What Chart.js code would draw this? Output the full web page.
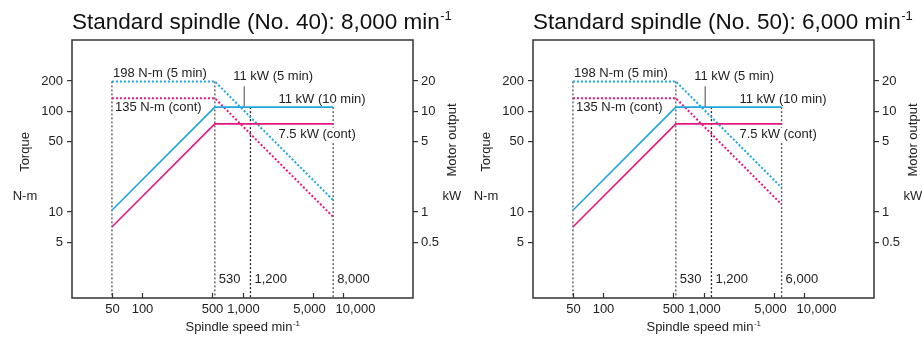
<!DOCTYPE html>
<html lang="en">
<head>
<meta charset="UTF-8">
<title>Standard spindle output</title>
<script src="https://cdnjs.cloudflare.com/ajax/libs/chart.js/4.4.1/chart.umd.min.js"></script>
<style>
    html, body { margin: 0; padding: 0; background: #fff; overflow: hidden; }
    .wrap { position: relative; width: 922px; height: 337px; }
    .box { position: absolute; top: 0; width: 461px; height: 337px; }
    #box40 { left: 0; }
    #box50 { left: 461px; }
</style>
</head>
<body>
<div class="wrap">
    <div class="box" id="box40"><canvas id="chart40" width="461" height="337"></canvas></div>
    <div class="box" id="box50"><canvas id="chart50" width="461" height="337"></canvas></div>
</div>

<script>
    // axis ticks
    const speedTicks = [50, 100, 500, 1000, 5000, 10000];
    const torqueTicks = [5, 10, 50, 100, 200];
    const powerTicks = [0.5, 1, 5, 10, 20];

    // No. 40 spindle, 8,000 min-1
    const speeds40 = [50, 530, 8000];
    const torqueMax40 = [198, 198, 13.1];   // N-m, 5 min
    const torqueCont40 = [135, 135, 8.95];  // N-m, cont
    const powerMax40 = [1.04, 11, 11];      // kW, 5/10 min
    const powerCont40 = [0.71, 7.5, 7.5];   // kW, cont
    const guideSpeeds40 = [50, 530, 1200, 8000];
    const guideTops40 = [198, 198, 110, 110];

    // No. 50 spindle, 6,000 min-1
    const speeds50 = [50, 530, 6000];
    const torqueMax50 = [198, 198, 17.5];
    const torqueCont50 = [135, 135, 11.9];
    const powerMax50 = [1.04, 11, 11];
    const powerCont50 = [0.71, 7.5, 7.5];
    const guideSpeeds50 = [50, 530, 1200, 6000];
    const guideTops50 = [198, 198, 110, 110];

    // pointer for "11 kW (5 min)"
    const pointerSpeed = 1040;
    const pointerRange = [177, 110];

    const BLUE = '#1ea5e0';
    const PINK = '#e4167f';
    const INK = '#222';
    const FONT = '"Liberation Sans", Arial, Helvetica, sans-serif';
    const Y_MIN = 1.4, Y_MAX = 510;
    // the two crowded speed labels are pushed apart a little
    const tickNudge = { 5000: -4, 10000: 12 };

    function pts(xs, ys) {
        return xs.map((x, i) => ({ x: x, y: ys[i] }));
    }

    function line(data, color, axis, dash, width) {
        return {
            data: data,
            borderColor: color,
            borderWidth: width,
            borderDash: dash,
            yAxisID: axis,
            pointRadius: 0,
            tension: 0,
            fill: false
        };
    }

    function superText(ctx, x, y, text, sup, size, supSize, align) {
        ctx.font = size + 'px ' + FONT;
        const w1 = ctx.measureText(text).width;
        ctx.font = supSize + 'px ' + FONT;
        const w2 = ctx.measureText(sup).width;
        let left = x;
        if (align === 'center') left = x - (w1 + w2) / 2;
        ctx.textAlign = 'left';
        ctx.textBaseline = 'alphabetic';
        ctx.font = size + 'px ' + FONT;
        ctx.fillText(text, left, y);
        ctx.font = supSize + 'px ' + FONT;
        ctx.fillText(sup, left + w1 + 0.5, y - size * 0.38);
    }

    const annotate = {
        id: 'annotate',
        afterDatasetsDraw(chart, args, opts) {
            const ctx = chart.ctx;
            const a = chart.chartArea;
            const sx = chart.scales.x, sy = chart.scales.y;
            const px = v => sx.getPixelForValue(v);
            const py = v => sy.getPixelForValue(v);
            ctx.save();

            // frame
            ctx.strokeStyle = '#333';
            ctx.lineWidth = 1.5;
            ctx.strokeRect(a.left, a.top, a.right - a.left, a.bottom - a.top);

            // x tick marks point inward, labels below
            ctx.lineWidth = 1.2;
            ctx.fillStyle = INK;
            ctx.font = '13px ' + FONT;
            ctx.textAlign = 'center';
            ctx.textBaseline = 'middle';
            sx.ticks.forEach(t => {
                const x = Math.round(px(t.value)) + 0.5;
                ctx.beginPath();
                ctx.moveTo(x, a.bottom);
                ctx.lineTo(x, a.bottom - 5);
                ctx.stroke();
                ctx.fillText(t.value.toLocaleString('en-US'), x + (tickNudge[t.value] || 0), a.bottom + 11);
            });

            ctx.textAlign = 'left';
            ctx.fillText('198 N-m (5 min)', px(50) + 1, py(198) - 8);
            ctx.fillText('135 N-m (cont)', px(50) + 3, py(135) + 9);
            ctx.fillText('11 kW (5 min)', px(pointerSpeed) - 11, py(pointerRange[0]) - 10);
            ctx.fillText('11 kW (10 min)', px(1200) + 28, py(110) - 8);

            const t75 = '7.5 kW (cont)';
            const w75 = ctx.measureText(t75).width;
            ctx.fillStyle = '#fff';
            ctx.fillRect(px(1200) + 27, py(75) + 4, w75 + 2, 14);
            ctx.fillStyle = INK;
            ctx.fillText(t75, px(1200) + 28, py(75) + 11);

            // speed labels beside the guide lines
            opts.guides.slice(1).forEach(s => {
                ctx.fillText(s.toLocaleString('en-US'), px(s) + 4, a.bottom - 19);
            });

            // axis titles
            ctx.save();
            ctx.translate(25, 152);
            ctx.rotate(-Math.PI / 2);
            ctx.textAlign = 'center';
            ctx.fillText('Torque', 0, 0);
            ctx.restore();
            ctx.textAlign = 'center';
            ctx.fillText('N-m', 25, 196);

            ctx.save();
            ctx.translate(452, 140);
            ctx.rotate(-Math.PI / 2);
            ctx.textAlign = 'center';
            ctx.fillText('Motor output', 0, 0);
            ctx.restore();
            ctx.textAlign = 'center';
            ctx.fillText('kW', 452, 196);

            superText(ctx, (a.left + a.right) / 2, 331, 'Spindle speed min', '-1', 13, 8, 'center');

            // title
            ctx.fillStyle = '#111';
            superText(ctx, a.left, 29, opts.title, '-1', 22.5, 13, 'left');
            ctx.restore();
        }
    };

    function logAxis(position, min, max, ticks, width) {
        return {
            type: 'logarithmic',
            position: position,
            min: min,
            max: max,
            border: { display: false },
            grid: { drawOnChartArea: false, drawTicks: true, tickLength: 5, color: '#333', lineWidth: 1.2 },
            ticks: {
                color: INK,
                padding: position === 'left' ? 4 : 3,
                font: { family: FONT, size: 13 },
                callback: v => String(v)
            },
            afterBuildTicks: s => { s.ticks = ticks.map(v => ({ value: v })); },
            afterFit: s => { s.width = width; }
        };
    }

    function buildChart(id, title, speeds, tMax, tCont, pMax, pCont, guides, tops) {
        const datasets = [
            line(pts(speeds, pMax), BLUE, 'y1', [], 1.6),
            line(pts(speeds, pCont), PINK, 'y1', [], 1.6),
            line(pts(speeds, tMax), BLUE, 'y', [2, 2], 2),
            line(pts(speeds, tCont), PINK, 'y', [2, 2], 2),
            line(pts([pointerSpeed, pointerSpeed], pointerRange), '#666', 'y', [], 1.2)
        ];
        guides.forEach((s, i) => {
            datasets.push(line(pts([s, s], [tops[i], Y_MIN]), i === 2 ? '#222' : '#555', 'y', [2, 2], 1.3));
        });

        new Chart(document.getElementById(id), {
            type: 'line',
            data: { datasets: datasets },
            plugins: [annotate],
            options: {
                responsive: false,
                animation: false,
                layout: { padding: { top: 40, left: 0, right: 0, bottom: 0 } },
                plugins: {
                    legend: { display: false },
                    tooltip: { enabled: false },
                    annotate: { title: title, guides: guides }
                },
                scales: {
                    x: {
                        type: 'logarithmic',
                        min: 20,
                        max: 50000,
                        border: { display: false },
                        grid: { display: false, drawTicks: false },
                        ticks: { display: false },
                        afterBuildTicks: s => { s.ticks = speedTicks.map(v => ({ value: v })); },
                        afterFit: s => { s.height = 39; }
                    },
                    y: logAxis('left', Y_MIN, Y_MAX, torqueTicks, 72),
                    y1: logAxis('right', Y_MIN / 10, Y_MAX / 10, powerTicks, 48)
                }
            }
        });
    }

    buildChart('chart40', 'Standard spindle (No. 40): 8,000 min',
        speeds40, torqueMax40, torqueCont40, powerMax40, powerCont40, guideSpeeds40, guideTops40);
    buildChart('chart50', 'Standard spindle (No. 50): 6,000 min',
        speeds50, torqueMax50, torqueCont50, powerMax50, powerCont50, guideSpeeds50, guideTops50);
</script>
</body>
</html>
